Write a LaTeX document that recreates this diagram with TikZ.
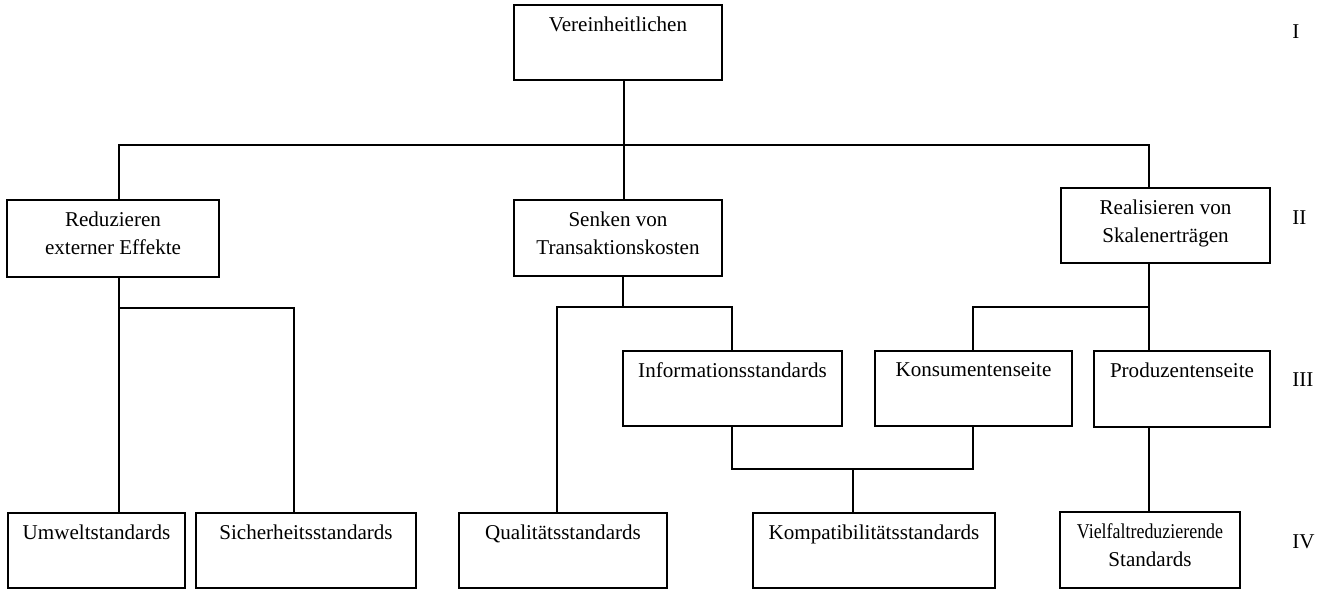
\documentclass[tikz,border=0pt]{standalone}
\usepackage{fontspec}
\setmainfont{Liberation Serif}
\usetikzlibrary{fit}
\begin{document}
\begin{tikzpicture}[x=0.02cm,y=-0.02cm,
  box/.style={draw,line width=0.8pt,inner sep=0pt,rectangle},
  lbl/.style={anchor=north,inner sep=0pt,align=center,font=\fontsize{12}{16}\selectfont},
  lvl/.style={anchor=west,inner sep=0pt,font=\fontsize{12}{16}\selectfont},
  conn/.style={line width=0.8pt}]
\useasboundingbox (0,0) rectangle (1325,590);

% level I
\node[box,fit={(514,5) (722,80)}] (v) {};
% level II
\node[box,fit={(7,200) (219,277)}] (r1) {};
\node[box,fit={(514,200) (722,276)}] (s) {};
\node[box,fit={(1061,188) (1270,263)}] (rs) {};
% level III
\node[box,fit={(623,351) (842,426)}] (is) {};
\node[box,fit={(875,351) (1072,426)}] (ks) {};
\node[box,fit={(1094,351) (1270,427)}] (ps) {};
% level IV
\node[box,fit={(8,513) (185,588)}] (us) {};
\node[box,fit={(196,513) (416,588)}] (ss) {};
\node[box,fit={(459,513) (667,588)}] (qs) {};
\node[box,fit={(753,513) (995,588)}] (kb) {};
\node[box,fit={(1060,512) (1240,588)}] (vs) {};

% box texts, set near the top edge
\node[lbl] (vt) at ([yshift=-0.24cm]v.north) {Vereinheitlichen};
\node[lbl] (r1t) at ([yshift=-0.24cm]r1.north) {Reduzieren\\externer Effekte};
\node[lbl] (st) at ([yshift=-0.24cm]s.north) {Senken von\\Transaktionskosten};
\node[lbl] (rst) at ([yshift=-0.24cm]rs.north) {Realisieren von\\Skalenerträgen};
\node[lbl] (ist) at ([yshift=-0.24cm]is.north) {Informationsstandards};
\node[lbl] (kst) at ([yshift=-0.24cm]ks.north) {Konsumentenseite};
\node[lbl] (pst) at ([yshift=-0.24cm]ps.north) {Produzentenseite};
\node[lbl] (ust) at ([yshift=-0.24cm]us.north) {Umweltstandards};
\node[lbl] (sst) at ([yshift=-0.24cm]ss.north) {Sicherheitsstandards};
\node[lbl] (qst) at ([yshift=-0.24cm]qs.north) {Qualitätsstandards};
\node[lbl] (kbt) at ([yshift=-0.24cm]kb.north) {Kompatibilitätsstandards};
\node[lbl] (vst) at ([yshift=-0.24cm]vs.north) {\scalebox{0.85}[1]{Vielfaltreduzierende}\\Standards};

% level numerals
\node[lvl] (l1) at (1292,32) {I};
\node[lvl] (l2) at (1292,218) {II};
\node[lvl] (l3) at (1292,380) {III};
\node[lvl] (l4) at (1292,542) {IV};

% junction points
\coordinate (t0) at (624,145);
\coordinate (tl) at (119,145);
\coordinate (tr) at (1149,145);
\coordinate (a1) at (119,308);
\coordinate (a2) at (294,308);
\coordinate (b0) at (623,307);
\coordinate (b1) at (557,307);
\coordinate (b2) at (732,307);
\coordinate (c1) at (973,307);
\coordinate (c2) at (1149,307);
\coordinate (d1) at (732,469);
\coordinate (d2) at (973,469);
\coordinate (d0) at (853,469);

% connectors
\draw[conn] (v.south -| t0) -- (s.north -| t0);
\draw[conn] (r1.north -| tl) -- (tl) -- (tr) -- (rs.north -| tr);

\draw[conn] (r1.south -| a1) -- (us.north -| a1);
\draw[conn] (a1) -- (a2) -- (ss.north -| a2);

\draw[conn] (s.south -| b0) -- (b0);
\draw[conn] (qs.north -| b1) -- (b1) -- (b2) -- (is.north -| b2);

\draw[conn] (rs.south -| c2) -- (ps.north -| c2);
\draw[conn] (ks.north -| c1) -- (c1) -- (c2);

\draw[conn] (is.south -| d1) -- (d1) -- (d2) -- (ks.south -| d2);
\draw[conn] (d0) -- (kb.north -| d0);

\draw[conn] (ps.south -| c2) -- (vs.north -| c2);
\end{tikzpicture}
\end{document}
